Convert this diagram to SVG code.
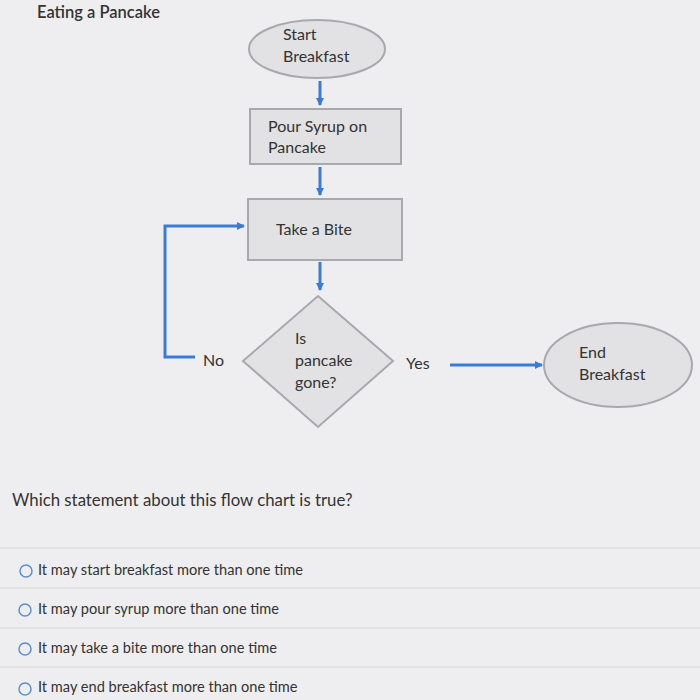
<svg xmlns="http://www.w3.org/2000/svg" width="700" height="700" viewBox="0 0 700 700">
<defs>
<marker id="ah" markerWidth="8" markerHeight="8" refX="7" refY="4" orient="auto" markerUnits="userSpaceOnUse"><path d="M0,0 L8,4 L0,8 z" fill="#3a7bd5"/></marker>
</defs>
<style>
text{font-family:Lato,"Liberation Sans",sans-serif;fill:#333;font-size:16px}
.s{fill:#e2e2e4;stroke:#a9a9ad;stroke-width:2}
.c{stroke:#3a7bd5;stroke-width:3;fill:none}
.o{font-size:14.6px}
.r{fill:none;stroke:#5b8fd0;stroke-width:1.5}
.l{stroke:#d8d8d8;stroke-width:1}
</style>
<rect width="700" height="700" fill="#eeeef0"/>
<text x="37" y="18" style="font-size:16.5px;font-weight:600">Eating a Pancake</text>
<g id="start"><ellipse class="s" cx="317" cy="49" rx="68" ry="29"/><text x="283" y="40">Start</text><text x="283" y="62">Breakfast</text></g>
<g id="syrup"><rect class="s" x="250" y="109" width="151" height="55"/><text x="268" y="132">Pour Syrup on</text><text x="268" y="153">Pancake</text></g>
<g id="bite"><rect class="s" x="248" y="199" width="154" height="61"/><text x="276" y="235">Take a Bite</text></g>
<g id="gone"><polygon class="s" points="318,296 393,361 318,427 243,361"/><text x="295" y="344">Is</text><text x="295" y="366">pancake</text><text x="295" y="388">gone?</text></g>
<g id="end"><ellipse class="s" cx="618" cy="365" rx="74" ry="42"/><text x="579" y="358">End</text><text x="579" y="380">Breakfast</text></g>
<g id="connectors">
<line class="c" x1="320" y1="81" x2="320" y2="105" marker-end="url(#ah)"/>
<line class="c" x1="320" y1="167" x2="320" y2="195" marker-end="url(#ah)"/>
<line class="c" x1="320" y1="262" x2="320" y2="290" marker-end="url(#ah)"/>
<polyline class="c" points="195,357 165,357 165,226 244,226" marker-end="url(#ah)"/>
<line class="c" x1="450" y1="365" x2="542" y2="365" marker-end="url(#ah)"/>
<text x="203" y="366">No</text>
<text x="406" y="369">Yes</text>
</g>
<text x="12" y="506" style="font-size:16.8px">Which statement about this flow chart is true?</text>
<line class="l" x1="0" y1="548" x2="700" y2="548"/>
<line class="l" x1="0" y1="588" x2="700" y2="588"/>
<line class="l" x1="0" y1="628" x2="700" y2="628"/>
<line class="l" x1="0" y1="667" x2="700" y2="667"/>
<circle class="r" cx="26" cy="571" r="6"/><text class="o" x="38" y="575">It may start breakfast more than one time</text>
<circle class="r" cx="25" cy="610" r="6"/><text class="o" x="38" y="614">It may pour syrup more than one time</text>
<circle class="r" cx="25" cy="649" r="6"/><text class="o" x="38" y="653">It may take a bite more than one time</text>
<circle class="r" cx="25" cy="689" r="6"/><text class="o" x="38" y="692">It may end breakfast more than one time</text>
</svg>
